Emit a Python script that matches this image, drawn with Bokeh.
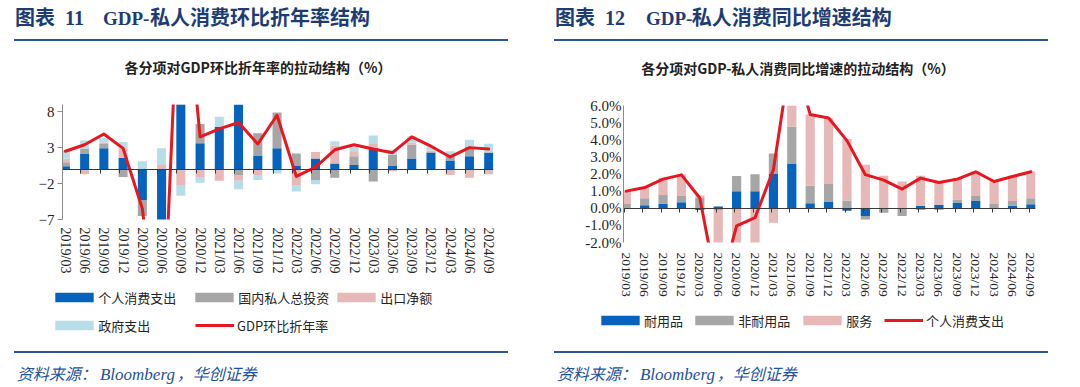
import math
import numpy as np
from bokeh.plotting import figure
from bokeh.layouts import row, column
from bokeh.models import (ColumnDataSource, Range1d, FixedTicker, LinearAxis, Legend,
                          LegendItem, PrintfTickFormatter, CustomJSTickFormatter, Div)
from bokeh.embed import file_html
from bokeh.resources import INLINE

# ---------------- data ----------------
categories = ["2019/03", "2019/06", "2019/09", "2019/12", "2020/03", "2020/06", "2020/09",
              "2020/12", "2021/03", "2021/06", "2021/09", "2021/12", "2022/03", "2022/06",
              "2022/09", "2022/12", "2023/03", "2023/06", "2023/09", "2023/12", "2024/03",
              "2024/06", "2024/09"]

# chart 1: contributions to GDP q/q annualized (%)
pce_contrib = [0.4, 2.1, 2.9, 1.6, -4.3, -24.0, 25.0, 3.6, 5.9, 9.4, 1.9, 2.9, 0.5, 1.5,
               0.8, 0.6, 3.0, 0.5, 1.5, 2.3, 1.2, 1.8, 2.3]
inv_contrib = [0.55, 0.7, 0.6, -1.1, -2.2, -9.0, 12.0, 2.7, -0.1, -0.8, 3.1, 5.0, 1.7, -1.5,
               -1.2, 1.2, -1.7, 1.5, 1.9, 0.1, 0.6, 1.3, 0.05]
nx_contrib = [0.5, -0.7, 0.2, 1.3, 0.0, 0.7, -2.3, -1.2, -1.5, -0.8, -0.8, -0.1, -2.2, 0.9,
              2.5, 0.6, 0.5, -0.3, 0.3, 0.2, -0.8, -1.2, -0.7]
gov_contrib = [1.2, 1.2, 0.6, 0.9, 1.1, 2.2, -1.4, -0.7, 1.4, -1.2, -0.7, -0.5, -0.9, -0.6,
               0.6, 0.8, 1.2, 0.7, 0.9, 0.7, 0.7, 1.0, 1.2]
gdp_qoq_ann = [2.5, 3.4, 4.9, 2.9, -5.5, -28.0, 33.0, 4.5, 5.6, 6.5, 3.5, 7.5, -1.0, 0.3,
               2.7, 3.4, 2.8, 2.3, 4.5, 3.2, 1.7, 3.0, 2.8]

# chart 2: contributions to private consumption y/y (%)
durable = [-0.05, 0.18, 0.27, 0.35, -0.1, 0.1, 1.0, 1.0, 2.03, 2.62, 0.29, 0.39, -0.15,
           -0.45, -0.02, -0.05, 0.15, 0.2, 0.31, 0.43, 0.05, 0.15, 0.23]
nondurable = [0.25, 0.41, 0.51, 0.37, 0.6, -0.1, 0.88, 0.98, 1.17, 2.16, 1.02, 1.02, 0.45,
              -0.2, -0.25, -0.4, -0.1, -0.1, 0.2, 0.29, 0.2, 0.27, 0.35]
services = [0.78, 0.62, 0.98, 1.27, 0.15, -5.0, -2.9, -2.5, -0.84, 4.5, 4.16, 3.86, 3.6,
            2.54, 1.9, 1.56, 1.75, 1.36, 1.25, 1.43, 1.35, 1.48, 1.57]
pce_yoy = [1.0, 1.21, 1.7, 1.95, 0.6, -5.0, -1.03, -0.55, 2.25, 9.3, 5.47, 5.27, 3.95, 1.96,
           1.64, 1.12, 1.76, 1.5, 1.7, 2.13, 1.56, 1.85, 2.13]

names1 = ["个人消费支出", "国内私人总投资", "出口净额", "政府支出"]
line1_name = "GDP环比折年率"
names2 = ["耐用品", "非耐用品", "服务"]
line2_name = "个人消费支出"
left_ticks = [-7, -2, 3, 8]
right_ticks = [-2, -1, 0, 1, 2, 3, 4, 5, 6]

# ---------------- styles ----------------
BLUE = "#0563BD"
GRAY = "#A6A6A6"
PINK = "#E6B9B8"
LBLUE = "#B7DEE8"
RED = "#E8161E"
NAVY = "#1E3C74"
RULE = "#2C5596"
SRC = "#24529C"
CJK = "Noto Sans CJK SC"
SERIF = "Liberation Serif"
W = 540


def stack(series_list):
    n = len(series_list[0])
    pos = np.zeros(n)
    neg = np.zeros(n)
    out = []
    for s in series_list:
        s = np.asarray(s, dtype=float)
        bottom = np.where(s >= 0, pos, neg)
        top = bottom + s
        pos = np.where(s >= 0, top, pos)
        neg = np.where(s < 0, top, neg)
        out.append((bottom, top))
    return out


def base_fig(height, y_range, fl, fw, ft, fh):
    p = figure(width=W, height=height, output_backend="svg", toolbar_location=None,
               x_range=Range1d(-0.15, 22.25), y_range=Range1d(*y_range),
               min_border_left=fl, min_border_right=W - fl - fw, min_border_top=ft,
               min_border_bottom=height - ft - fh, outline_line_color=None,
               background_fill_color="white", border_fill_color="white")
    p.frame_align = False
    p.xaxis.visible = False
    p.yaxis.visible = False
    p.grid.visible = False
    return p


def make_chart(series, colors, line_vals, y_range, height, fl, fw, ft, fh, y_ticks, y_fmt,
               y_tick_out, y_standoff, x_standoff, x_font, y_font, tick_offset, bar_w):
    p = base_fig(height, y_range, fl, fw, ft, fh)
    x = np.arange(len(categories))

    xa = LinearAxis(ticker=FixedTicker(ticks=list(range(len(categories)))),
                    major_label_overrides={i: c for i, c in enumerate(categories)},
                    major_label_orientation=-math.pi / 2, axis_line_color=None,
                    major_tick_line_color=None, major_tick_out=0, major_tick_in=0,
                    minor_tick_line_color=None, minor_tick_out=0,
                    major_label_standoff=x_standoff, major_label_text_font=SERIF,
                    major_label_text_font_size=x_font, major_label_text_color="#262626")
    p.add_layout(xa, "below")
    za = LinearAxis(fixed_location=0,
                    ticker=FixedTicker(ticks=[i + tick_offset for i in range(len(categories))]),
                    formatter=CustomJSTickFormatter(code="return ''"),
                    axis_line_color="#3A3A3A", axis_line_width=1,
                    major_tick_line_color="#3A3A3A", major_tick_out=4, major_tick_in=0,
                    minor_tick_line_color=None, major_label_text_font_size="1px",
                    major_label_standoff=0)
    p.add_layout(za, "below")
    ya = LinearAxis(ticker=FixedTicker(ticks=y_ticks), axis_line_color="#8C8C8C",
                    major_tick_line_color="#8C8C8C", major_tick_out=y_tick_out,
                    major_tick_in=0, minor_tick_line_color=None,
                    major_label_standoff=y_standoff, major_label_text_font=SERIF,
                    major_label_text_font_size=y_font, major_label_text_color="#262626")
    if y_fmt is not None:
        ya.formatter = y_fmt
    p.add_layout(ya, "left")

    for (b, t), c in zip(stack(series), colors):
        src = ColumnDataSource(dict(x=x, bottom=b, top=t))
        p.vbar(x="x", bottom="bottom", top="top", width=bar_w, source=src,
               fill_color=c, line_color=None)
    lsrc = ColumnDataSource(dict(x=x, y=line_vals))
    p.line(x="x", y="y", source=lsrc, line_color=RED, line_width=3,
           line_join="round", line_cap="round")
    return p


GH = 12      # legend glyph height
LBOX = 16    # assumed legend box height


def make_legend_fig(height, bar_items, line_item):
    """Legend strip: proxies share the series styles; items placed at panel positions."""
    p = figure(width=W, height=height, output_backend="svg", toolbar_location=None,
               x_range=Range1d(0, 1), y_range=Range1d(0, 1), min_border=0,
               outline_line_color=None, background_fill_color="white",
               border_fill_color="white")
    p.frame_align = False
    p.xaxis.visible = False
    p.yaxis.visible = False
    p.grid.visible = False
    for label, color, px, cy in bar_items:
        r = p.vbar(x=[0.5], bottom=[0], top=[0], width=0.0, fill_color=color,
                   line_color=None)
        leg = Legend(items=[LegendItem(label=label, renderers=[r])],
                     location=(px - 4.8, height - cy - LBOX / 2), orientation="horizontal",
                     glyph_width=48, glyph_height=GH, label_height=GH, label_standoff=0,
                     padding=0, margin=0, spacing=0, border_line_color=None,
                     background_fill_alpha=0, label_text_font=CJK,
                     label_text_font_size="13px", label_text_color="#262626")
        p.add_layout(leg)
    label, px, cy = line_item
    r = p.line(x=[0.5], y=[0.5], line_color=RED, line_width=3)
    leg = Legend(items=[LegendItem(label=label, renderers=[r])],
                 location=(px, height - cy - LBOX / 2), orientation="horizontal",
                 glyph_width=39, glyph_height=GH, label_height=GH, label_standoff=3,
                 padding=0, margin=0, spacing=0, border_line_color=None,
                 background_fill_alpha=0, label_text_font=CJK,
                 label_text_font_size="13px", label_text_color="#262626")
    p.add_layout(leg)
    return p


def header_div(height, left, widths, num, latin, cjk, sub, sub_center, sub_top):
    html = (
        f'<div style="position:relative;width:{W}px;height:{height}px;">'
        f'<div style="position:absolute;left:{left}px;top:6.8px;white-space:nowrap;'
        f'font-family:\'{CJK}\';font-size:20px;line-height:20px;font-weight:bold;color:{NAVY};">'
        f'<span style="display:inline-block;width:{widths[0]}px;">图表</span>'
        f'<span style="display:inline-block;width:{widths[1]}px;font-family:\'{SERIF}\';">{num}</span>'
        f'<span style="display:inline-block;width:{widths[2]}px;font-family:\'{SERIF}\';font-size:19px;">{latin}</span>'
        f'<span>{cjk}</span></div>'
        f'<div style="position:absolute;left:14px;top:39.1px;width:494px;height:1.8px;'
        f'background:{RULE};"></div>'
        f'<div style="position:absolute;left:{sub_center - 250}px;top:{sub_top}px;width:500px;'
        f'text-align:center;white-space:nowrap;font-family:\'{CJK}\';font-size:14px;'
        f'line-height:14px;font-weight:bold;color:#222222;">{sub}</div>'
        f'</div>')
    return Div(text=html, width=W, height=height, margin=0)


def footer_div():
    html = (
        f'<div style="position:relative;width:{W}px;height:46px;">'
        f'<div style="position:absolute;left:14px;top:9.8px;width:494px;height:1.8px;'
        f'background:{RULE};"></div>'
        f'<div style="position:absolute;left:16.7px;top:24px;white-space:nowrap;'
        f'font-family:\'{CJK}\';font-size:16px;line-height:16px;font-style:italic;color:{SRC};">'
        f'<span style="display:inline-block;width:83.3px;">资料来源：</span>'
        f'<span style="display:inline-block;width:76.7px;font-family:\'{SERIF}\';font-size:17px;">Bloomberg</span>'
        f'<span>，华创证券</span></div>'
        f'</div>')
    return Div(text=html, width=W, height=46, margin=0)


# ---------------- panel 1 ----------------
h1 = header_div(93, 15, (50, 38, 47), "11", "GDP-", "私人消费环比折年率结构",
                "各分项对GDP环比折年率的拉动结构（%）", 258, 60.2)
c1 = make_chart([pce_contrib, inv_contrib, nx_contrib, gov_contrib],
                [BLUE, GRAY, PINK, LBLUE], gdp_qoq_ann, (-7, 9), 192, 62, 431, 11, 115,
                left_ticks, None, 5, 3, 8, "14px", "15px", -0.2, 0.47)
lg1 = make_legend_fig(56, [(names1[0], BLUE, 55, 13.5), (names1[1], GRAY, 195, 13.5),
                           (names1[2], PINK, 337, 13.5), (names1[3], LBLUE, 55, 41.7)],
                      (line1_name, 195, 41.7))
f1 = footer_div()
col1 = column(h1, c1, lg1, f1, spacing=0)

# ---------------- panel 2 ----------------
h2 = header_div(95, 15, (50, 41, 45.7), "12", "GDP-", "私人消费同比增速结构",
                "各分项对GDP-私人消费同比增速的拉动结构（%）", 258, 60.7)
c2 = make_chart([durable, nondurable, services], [BLUE, GRAY, PINK], pce_yoy, (-2, 6), 212,
                83, 412, 10, 137, right_ticks, PrintfTickFormatter(format="%.1f%%"), 0, 2, 10,
                "13.5px", "15px", -0.1, 0.5)
lg2 = make_legend_fig(34, [(names2[0], BLUE, 60.7, 14.7), (names2[1], GRAY, 155, 14.7),
                           (names2[2], PINK, 263, 14.7)], (line2_name, 344, 14.7))
f2 = footer_div()
col2 = column(h2, c2, lg2, f2, spacing=0)

layout = row(col1, col2, spacing=0)
open("out.html", "w").write(file_html(layout, INLINE))
